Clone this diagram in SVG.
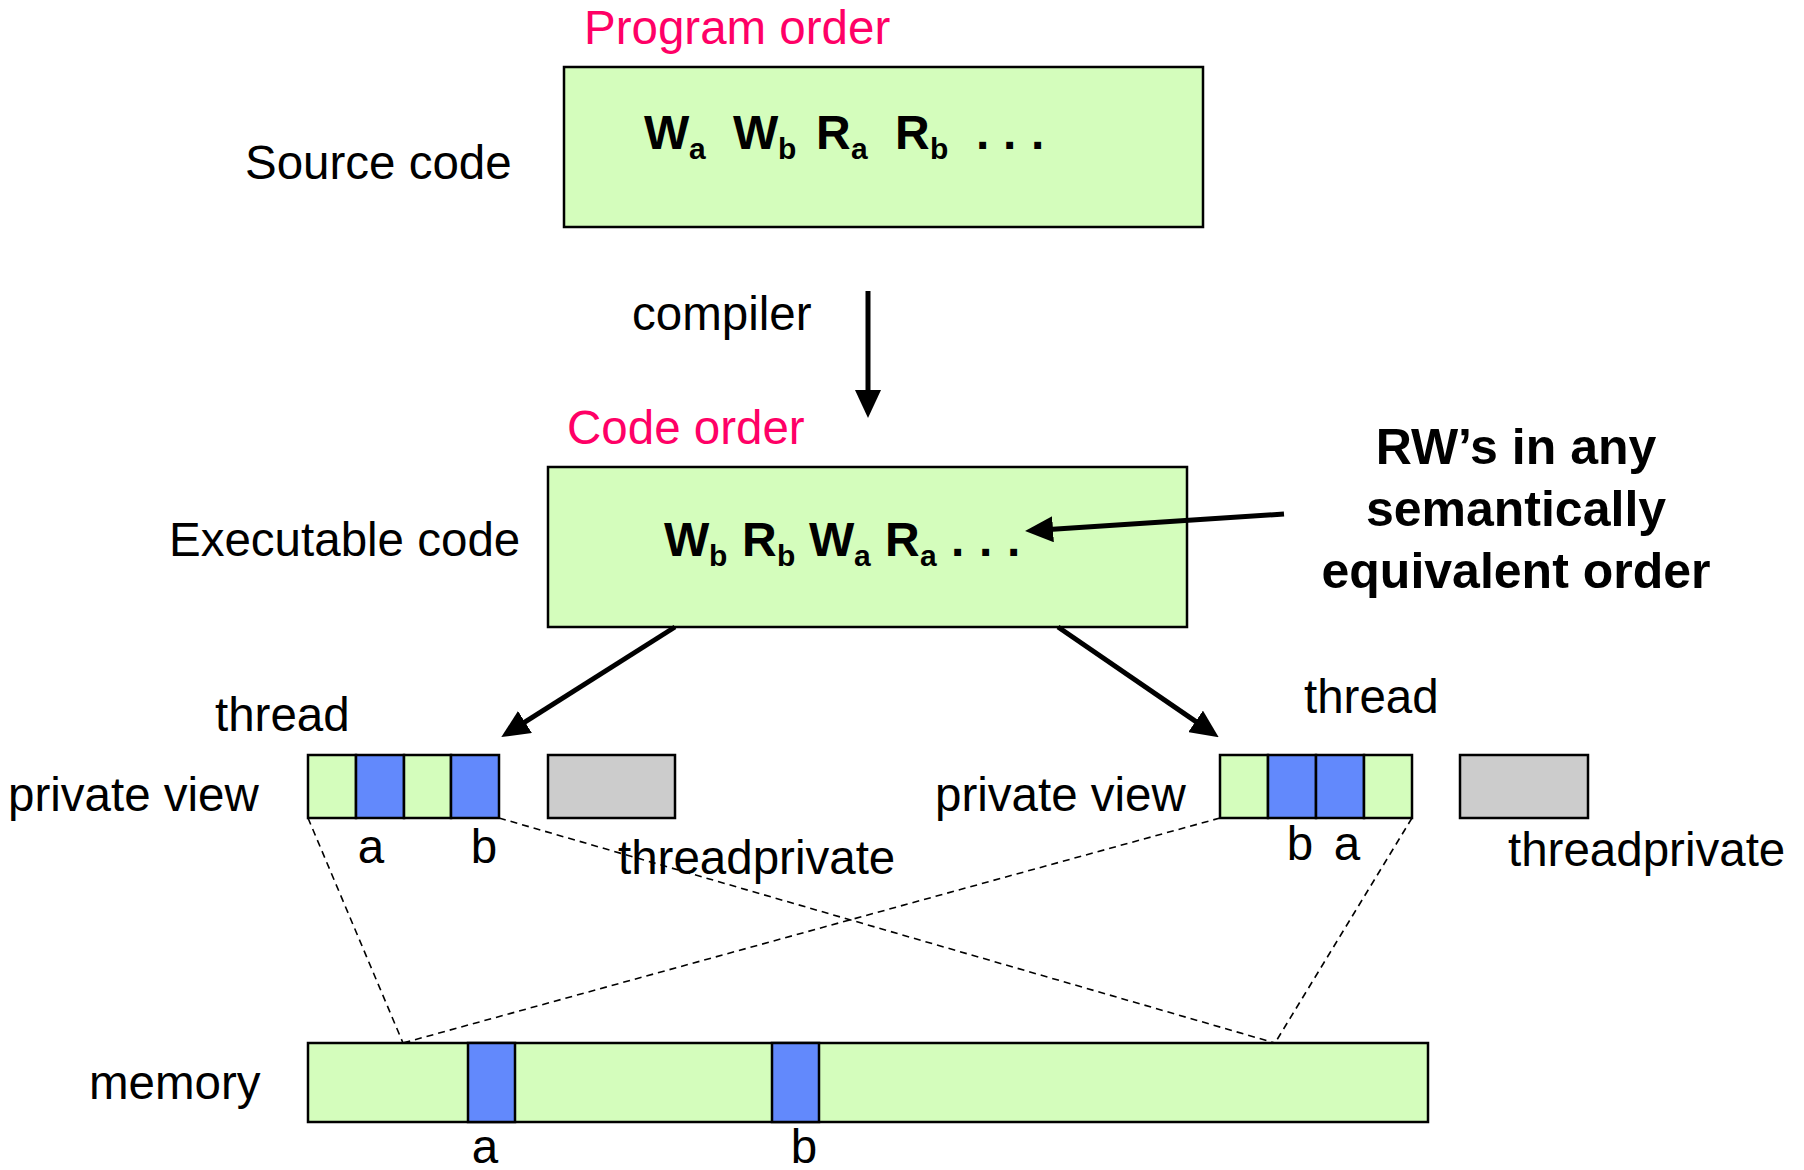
<svg xmlns="http://www.w3.org/2000/svg" width="1804" height="1170" viewBox="0 0 1804 1170">
  <defs>
    <style>
      .lbl { font-family: "Liberation Sans", Arial, sans-serif; font-size: 47.5px; fill: #000; }
      .ord { font-family: "Liberation Sans", Arial, sans-serif; font-size: 47.5px; fill: #ff0066; }
      .code { font-family: "Liberation Sans", Arial, sans-serif; font-size: 48px; font-weight: bold; fill: #000; }
      .sub { font-size: 30px; }
      .note { font-family: "Liberation Sans", Arial, sans-serif; font-size: 50px; font-weight: bold; fill: #000; text-anchor: middle; }
      .mid { text-anchor: middle; }
      .box { fill: #d4fdbc; stroke: #000; stroke-width: 2.5; }
      .var { fill: #6289fc; stroke: #000; stroke-width: 2.5; }
      .tp { fill: #cccccc; stroke: #000; stroke-width: 2.5; }
      .arrow { fill: none; stroke: #000; stroke-width: 5; }
      .dash { fill: none; stroke: #000; stroke-width: 1.6; stroke-dasharray: 7 5; }
    </style>
    <marker id="head" markerUnits="userSpaceOnUse" markerWidth="28" markerHeight="26" refX="4" refY="13" orient="auto">
      <path d="M0,0 L28,13 L0,26 z" fill="#000"/>
    </marker>
  </defs>

  <rect width="1804" height="1170" fill="#fff"/>

  <!-- source code box -->
  <g id="source">
    <text class="ord" x="584" y="44">Program order</text>
    <text class="lbl" x="245" y="179">Source code</text>
    <rect class="box" x="564" y="67" width="639" height="160"/>
    <text class="code" y="149"><tspan x="644">W</tspan><tspan class="sub" x="689" dy="10">a</tspan><tspan x="733" dy="-10">W</tspan><tspan class="sub" x="778" dy="10">b</tspan><tspan x="816" dy="-10">R</tspan><tspan class="sub" x="851" dy="10">a</tspan><tspan x="895" dy="-10">R</tspan><tspan class="sub" x="930" dy="10">b</tspan><tspan x="976" dy="-10">.</tspan><tspan x="1003">.</tspan><tspan x="1031">.</tspan></text>
  </g>

  <!-- executable code box -->
  <g id="executable">
    <text class="ord" x="567" y="444">Code order</text>
    <text class="lbl" x="169" y="556">Executable code</text>
    <rect class="box" x="548" y="467" width="639" height="160"/>
    <text class="code" y="556"><tspan x="664">W</tspan><tspan class="sub" x="709" dy="10">b</tspan><tspan x="742" dy="-10">R</tspan><tspan class="sub" x="777" dy="10">b</tspan><tspan x="809" dy="-10">W</tspan><tspan class="sub" x="854" dy="10">a</tspan><tspan x="885" dy="-10">R</tspan><tspan class="sub" x="920" dy="10">a</tspan><tspan x="951" dy="-10">.</tspan><tspan x="979">.</tspan><tspan x="1007">.</tspan></text>
  </g>

  <!-- note on reordering -->
  <g id="note">
    <text class="note" x="1516" y="464">RW’s in any</text>
    <text class="note" x="1516" y="526">semantically</text>
    <text class="note" x="1516" y="588">equivalent order</text>
  </g>

  <!-- left thread -->
  <g id="thread-left">
    <text class="lbl" x="215" y="731">thread</text>
    <text class="lbl" x="8" y="811">private view</text>
    <rect class="box" x="308" y="755" width="48" height="63"/>
    <rect class="var" x="356" y="755" width="48" height="63"/>
    <rect class="box" x="404" y="755" width="47" height="63"/>
    <rect class="var" x="451" y="755" width="48" height="63"/>
    <text class="lbl mid" x="371" y="863">a</text>
    <text class="lbl mid" x="484" y="863">b</text>
    <rect class="tp" x="548" y="755" width="127" height="63"/>
    <text class="lbl" x="618" y="874">threadprivate</text>
  </g>

  <!-- right thread -->
  <g id="thread-right">
    <text class="lbl" x="1304" y="713">thread</text>
    <text class="lbl" x="935" y="811">private view</text>
    <rect class="box" x="1220" y="755" width="48" height="63"/>
    <rect class="var" x="1268" y="755" width="48" height="63"/>
    <rect class="var" x="1316" y="755" width="48" height="63"/>
    <rect class="box" x="1364" y="755" width="48" height="63"/>
    <text class="lbl mid" x="1300" y="860">b</text>
    <text class="lbl mid" x="1347" y="860">a</text>
    <rect class="tp" x="1460" y="755" width="128" height="63"/>
    <text class="lbl" x="1508" y="866">threadprivate</text>
  </g>

  <!-- shared memory -->
  <g id="memory">
    <text class="lbl" x="89" y="1099">memory</text>
    <rect class="box" x="308" y="1043" width="1120" height="79"/>
    <rect class="var" x="468" y="1043" width="47" height="79"/>
    <rect class="var" x="772" y="1043" width="47" height="79"/>
    <text class="lbl mid" x="485" y="1163">a</text>
    <text class="lbl mid" x="804" y="1163">b</text>
  </g>

  <!-- connectors -->
  <g id="connectors">
    <text class="lbl" x="632" y="330">compiler</text>
    <line class="arrow" x1="868" y1="291" x2="868" y2="394" marker-end="url(#head)"/>
    <line class="arrow" x1="1284" y1="514" x2="1049" y2="529.5" marker-end="url(#head)"/>
    <line class="arrow" x1="675" y1="627" x2="521.6" y2="724.2" marker-end="url(#head)"/>
    <line class="arrow" x1="1058" y1="627" x2="1198.9" y2="723.6" marker-end="url(#head)"/>
    <line class="dash" x1="308" y1="818" x2="403" y2="1043"/>
    <line class="dash" x1="499" y1="818" x2="1275" y2="1043"/>
    <line class="dash" x1="1220" y1="818" x2="403" y2="1043"/>
    <line class="dash" x1="1412" y1="818" x2="1275" y2="1043"/>
  </g>
</svg>
